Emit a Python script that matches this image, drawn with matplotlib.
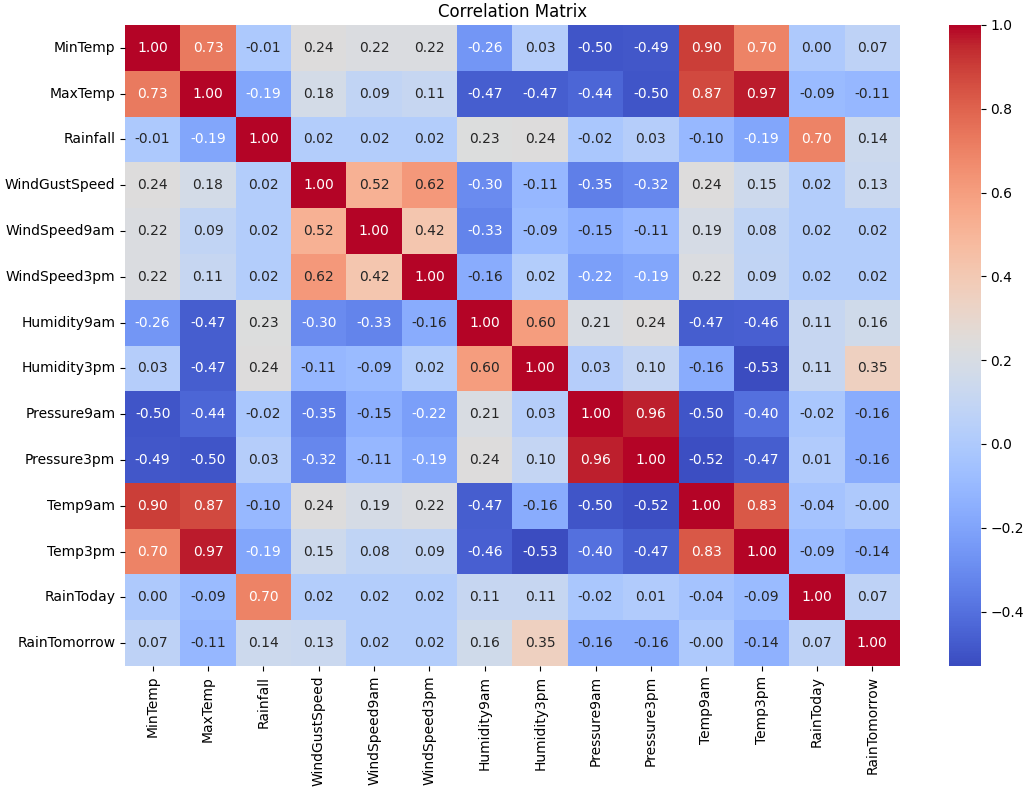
import numpy as np
import matplotlib
matplotlib.use("Agg")
import matplotlib.pyplot as plt
import seaborn as sns

# Feature names (row/column order of the matrix)
features = ["MinTemp", "MaxTemp", "Rainfall", "WindGustSpeed", "WindSpeed9am",
            "WindSpeed3pm", "Humidity9am", "Humidity3pm", "Pressure9am",
            "Pressure3pm", "Temp9am", "Temp3pm", "RainToday", "RainTomorrow"]

# Correlation values, one row per feature
min_temp = [1.00, 0.73, -0.01, 0.24, 0.22, 0.22, -0.26, 0.03, -0.50, -0.49, 0.90, 0.70, 0.00, 0.07]
max_temp = [0.73, 1.00, -0.19, 0.18, 0.09, 0.11, -0.47, -0.47, -0.44, -0.50, 0.87, 0.97, -0.09, -0.11]
rainfall = [-0.01, -0.19, 1.00, 0.02, 0.02, 0.02, 0.23, 0.24, -0.02, 0.03, -0.10, -0.19, 0.70, 0.14]
wind_gust = [0.24, 0.18, 0.02, 1.00, 0.52, 0.62, -0.30, -0.11, -0.35, -0.32, 0.24, 0.15, 0.02, 0.13]
wind_9am = [0.22, 0.09, 0.02, 0.52, 1.00, 0.42, -0.33, -0.09, -0.15, -0.11, 0.19, 0.08, 0.02, 0.02]
wind_3pm = [0.22, 0.11, 0.02, 0.62, 0.42, 1.00, -0.16, 0.02, -0.22, -0.19, 0.22, 0.09, 0.02, 0.02]
hum_9am = [-0.26, -0.47, 0.23, -0.30, -0.33, -0.16, 1.00, 0.60, 0.21, 0.24, -0.47, -0.46, 0.11, 0.16]
hum_3pm = [0.03, -0.47, 0.24, -0.11, -0.09, 0.02, 0.60, 1.00, 0.03, 0.10, -0.16, -0.53, 0.11, 0.35]
pres_9am = [-0.50, -0.44, -0.02, -0.35, -0.15, -0.22, 0.21, 0.03, 1.00, 0.96, -0.50, -0.40, -0.02, -0.16]
pres_3pm = [-0.49, -0.50, 0.03, -0.32, -0.11, -0.19, 0.24, 0.10, 0.96, 1.00, -0.52, -0.47, 0.01, -0.16]
temp_9am = [0.90, 0.87, -0.10, 0.24, 0.19, 0.22, -0.47, -0.16, -0.50, -0.52, 1.00, 0.83, -0.04, -0.004]
temp_3pm = [0.70, 0.97, -0.19, 0.15, 0.08, 0.09, -0.46, -0.53, -0.40, -0.47, 0.83, 1.00, -0.09, -0.14]
rain_today = [0.00, -0.09, 0.70, 0.02, 0.02, 0.02, 0.11, 0.11, -0.02, 0.01, -0.04, -0.09, 1.00, 0.07]
rain_tomorrow = [0.07, -0.11, 0.14, 0.13, 0.02, 0.02, 0.16, 0.35, -0.16, -0.16, -0.004, -0.14, 0.07, 1.00]

corr = np.array([min_temp, max_temp, rainfall, wind_gust, wind_9am, wind_3pm,
                 hum_9am, hum_3pm, pres_9am, pres_3pm, temp_9am, temp_3pm,
                 rain_today, rain_tomorrow])

fig = plt.figure(figsize=(10.27, 8.0), dpi=100)
ax = fig.add_axes([0.1217, 0.1675, 0.7546, 0.80125])
cax = fig.add_axes([0.924, 0.1675, 0.031, 0.80125])

sns.heatmap(corr, annot=True, fmt=".2f", cmap="coolwarm",
            xticklabels=features, yticklabels=features,
            ax=ax, cbar_ax=cax, annot_kws={"size": 10})

ax.set_title("Correlation Matrix", fontsize=12)
ax.tick_params(axis="x", labelrotation=90)
ax.tick_params(axis="y", labelrotation=0)

fig.savefig("out.png", dpi=100)
